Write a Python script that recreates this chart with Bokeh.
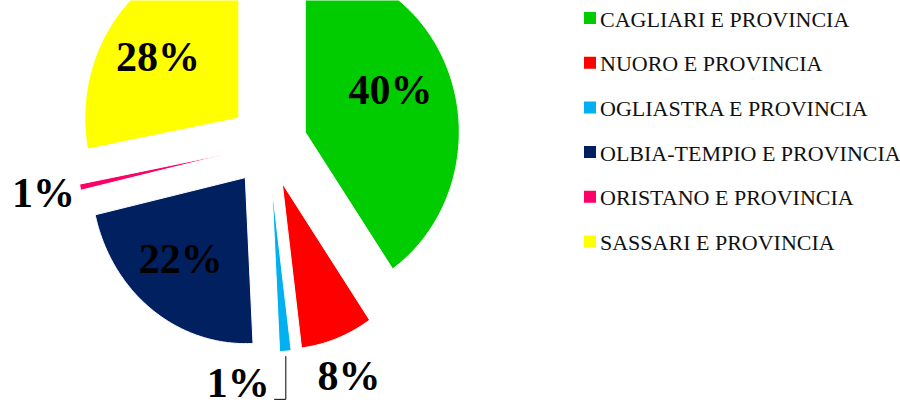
import numpy as np
from bokeh.plotting import figure
from bokeh.models import Range1d
from bokeh.core.properties import value
from bokeh.embed import file_html
from bokeh.resources import INLINE

# ---- data ----
categories = ["CAGLIARI E PROVINCIA", "NUORO E PROVINCIA", "OGLIASTRA E PROVINCIA",
              "OLBIA-TEMPIO E PROVINCIA", "ORISTANO E PROVINCIA", "SASSARI E PROVINCIA"]
shares = [40.4, 7.6, 1.2, 22.2, 0.6, 28.0]
colors = ["#00CC00", "#FF0000", "#00B0F0", "#002060", "#FF0066", "#FFFF00"]

# ---- layout (picture pixel coordinates) ----
W, H = 900, 405
cx, cy = 268.0, 144.0      # pie centre
rx, ry = 154.0, 166.0      # radii (reference image is slightly squashed horizontally)
explode = 0.25             # explosion as fraction of radius
label_r = [0.61, 1.24, 1.205, 0.645, 1.24, 0.64]
label_nudge = [-7.6, 0.4, 15.5, 3.5, 0.8, -4.8]

p = figure(width=W, height=H, x_range=Range1d(0, W), y_range=Range1d(H, 0),
           output_backend="svg", toolbar_location=None, min_border=0)
p.axis.visible = False
p.grid.visible = False
p.outline_line_color = None
p.background_fill_color = "white"
p.border_fill_color = "white"

vals = np.array(shares, dtype=float)
ends = np.cumsum(vals) / vals.sum() * 360.0
starts = np.concatenate([[0.0], ends[:-1]])
mids = (starts + ends) / 2

xs, ys = [], []
apex = []
for s, e, m in zip(starts, ends, mids):
    mr = np.radians(m)
    ax = cx + explode * rx * np.sin(mr)
    ay = cy - explode * ry * np.cos(mr)
    apex.append((ax, ay))
    t = np.radians(np.linspace(s, e, max(4, int((e - s) * 2))))
    px = np.concatenate([[ax], ax + rx * np.sin(t)])
    py = np.concatenate([[ay], ay - ry * np.cos(t)])
    xs.append(list(px))
    ys.append(list(py))

p.patches(xs=xs, ys=ys, fill_color=colors, line_color="white", line_width=1)

# ---- percentage labels ----
fs = 42
lx, ly, lt = [], [], []
for i, (m, (ax, ay)) in enumerate(zip(mids, apex)):
    a = np.radians(m + label_nudge[i])
    lx.append(ax + label_r[i] * rx * np.sin(a))
    ly.append(ay - label_r[i] * ry * np.cos(a))
    lt.append(f"{round(shares[i])}%")
p.text(x=lx, y=ly, text=lt, text_align="center", text_baseline="middle",
       text_font=value("Liberation Serif"), text_font_style="bold",
       text_font_size=f"{fs}px", text_color="black")

# leader line for OGLIASTRA label
k = 2
mr = np.radians(mids[k])
sx = apex[k][0] + 1.03 * rx * np.sin(mr)
sy = apex[k][1] - 1.03 * ry * np.cos(mr)
tyb = ly[k] + 0.4 * fs
p.line(x=[sx, sx, lx[k] + 36], y=[sy, tyb, tyb], line_color="black", line_width=1)

# ---- legend ----
leg_x0, leg_y0, leg_dy = 589.5, 17.5, 44.7
sq_x = [leg_x0] * len(categories)
sq_y = [leg_y0 + i * leg_dy for i in range(len(categories))]
p.scatter(x=sq_x, y=sq_y, marker="square", size=12, fill_color=colors, line_color=None)
p.text(x=[leg_x0 + 10] * len(categories), y=[y + 1 for y in sq_y], text=categories,
       text_align="left", text_baseline="middle",
       text_font=value("Liberation Serif"), text_font_size="22px", text_color="#111111")

open("out.html", "w").write(file_html(p, INLINE))
